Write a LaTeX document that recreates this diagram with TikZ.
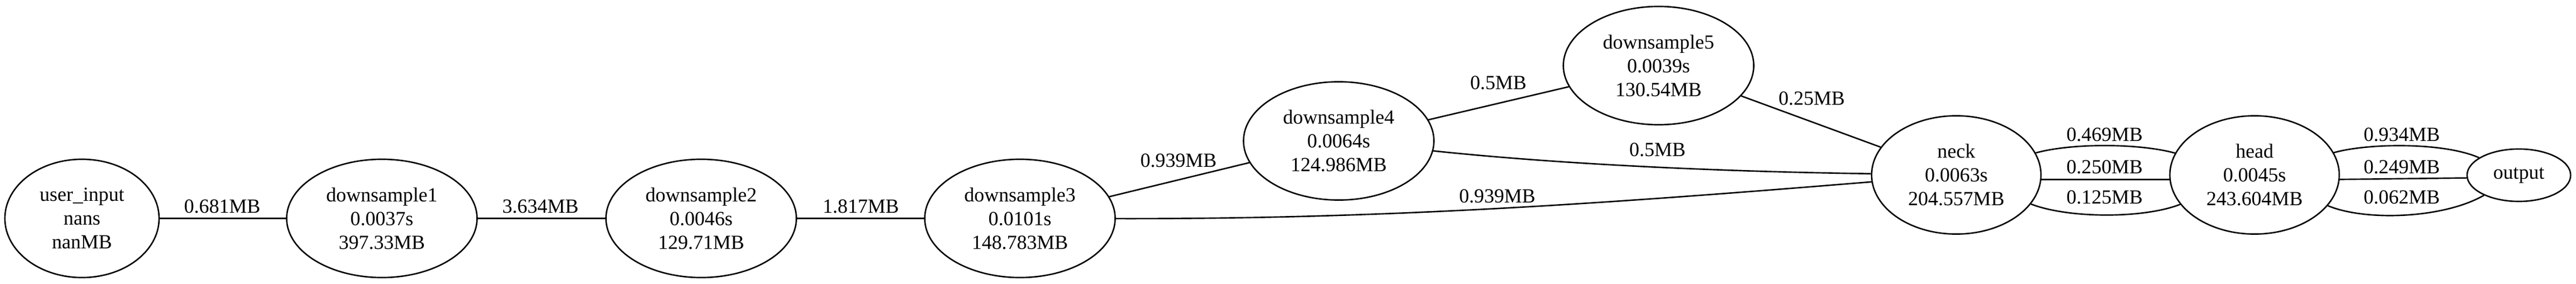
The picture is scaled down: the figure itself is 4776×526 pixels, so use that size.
\documentclass[tikz,border=0pt]{standalone}
\usepackage{fontspec}
\setmainfont{Liberation Serif}
\usetikzlibrary{shapes.geometric}
\tikzset{
  x=0.377pt, y=-0.377pt,
  gnode/.style={ellipse, draw, line width=1pt, inner sep=0pt, align=center,
    font=\fontsize{14}{16.6}\selectfont, minimum height=82.6pt},
  wide/.style={gnode, minimum width=133.1pt},
  mid/.style={gnode, minimum width=118.4pt},
  edge/.style={line width=1pt},
  lbl/.style={inner sep=0pt, font=\fontsize{14}{16.6}\selectfont}
}
\begin{document}
\begin{tikzpicture}
\useasboundingbox (0,0) rectangle (4776,526);
\node[gnode, minimum width=107.8pt] (ui) at (152,404.5) {user\_input\\nans\\nanMB};
\node[wide] (d1) at (708,404.5) {downsample1\\0.0037s\\397.33MB};
\node[wide] (d2) at (1300,404.5) {downsample2\\0.0046s\\129.71MB};
\node[wide] (d3) at (1891,404.5) {downsample3\\0.0101s\\148.783MB};
\node[wide] (d4) at (2482,261) {downsample4\\0.0064s\\124.986MB};
\node[wide] (d5) at (3075,121.5) {downsample5\\0.0039s\\130.54MB};
\node[mid] (neck) at (3627,324) {neck\\0.0063s\\204.557MB};
\node[mid] (head) at (4180,324) {head\\0.0045s\\243.604MB};
\node[gnode, minimum width=72.4pt, minimum height=36.6pt] (out) at (4670,324.5) {output};

\draw[edge] (ui) -- (d1) node[lbl, at={(412,382)}] {0.681MB};
\draw[edge] (d1) -- (d2) node[lbl, at={(1002,382)}] {3.634MB};
\draw[edge] (d2) -- (d3) node[lbl, at={(1596,382)}] {1.817MB};
\draw[edge] (d3) -- (d4) node[lbl, at={(2185,297)}] {0.939MB};
\draw[edge] (d4) -- (d5) node[lbl, at={(2778,153)}] {0.5MB};
\draw[edge] (d5) -- (neck) node[lbl, at={(3359,182)}] {0.25MB};
\draw[edge] (d4) .. controls (2900,305) and (3200,318) .. (neck) node[lbl, at={(3073,277)}] {0.5MB};
\draw[edge] (d3) .. controls (2568,406) and (2971,377.5) .. (neck) node[lbl, at={(2776,363)}] {0.939MB};

\draw[edge] (neck) .. controls (3840,265) and (3965,265) .. (head) node[lbl, at={(3902,249)}] {0.469MB};
\draw[edge] (neck.-3) -- (head.-177) node[lbl, at={(3902,309)}] {0.250MB};
\draw[edge] (neck) .. controls (3835,405) and (3975,405) .. (head) node[lbl, at={(3902,365)}] {0.125MB};

\draw[edge] (head) .. controls (4390,265) and (4530,263) .. (out) node[lbl, at={(4453,249)}] {0.934MB};
\draw[edge] (head.-3) -- (out.-177) node[lbl, at={(4453,309)}] {0.249MB};
\draw[edge] (head) .. controls (4385,410) and (4530,405) .. (out) node[lbl, at={(4453,365)}] {0.062MB};
\end{tikzpicture}
\end{document}
